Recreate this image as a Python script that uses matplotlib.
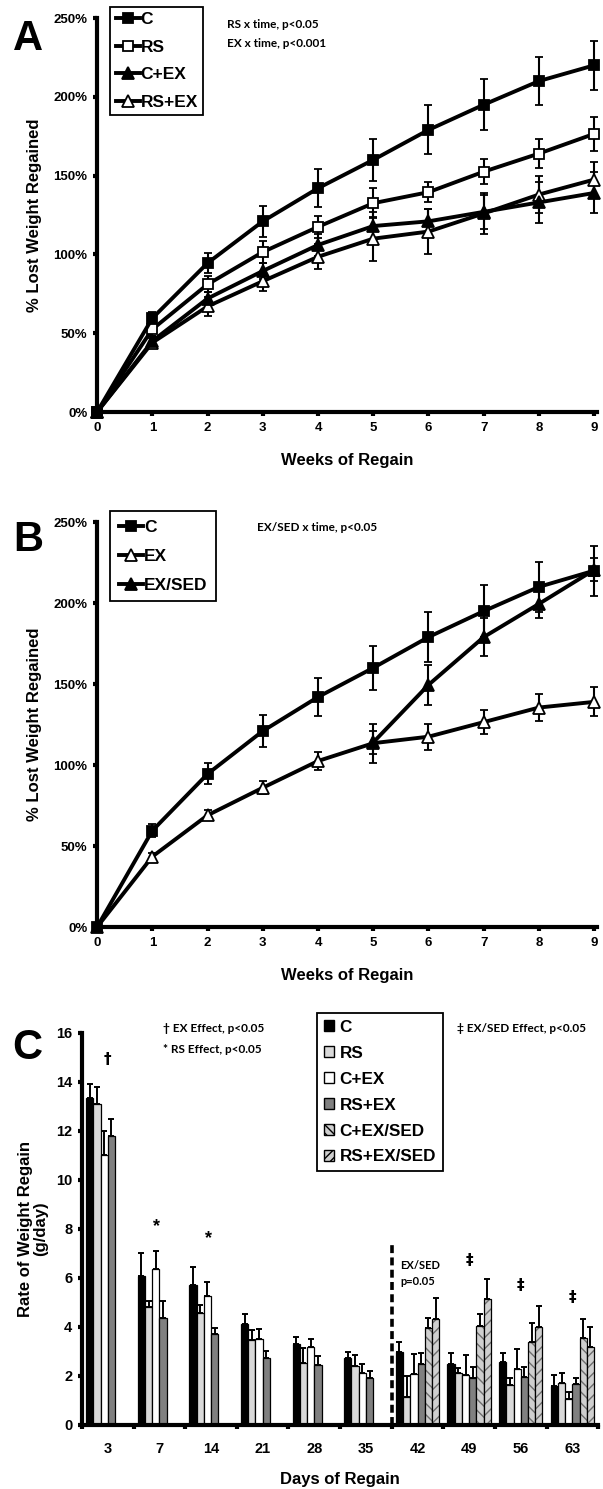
import numpy as np
import matplotlib
matplotlib.use("Agg")
import matplotlib.pyplot as plt
from matplotlib.lines import Line2D
from matplotlib.patches import Patch

# ---- panel A / B : % lost weight regained by week ----
weeks = [0, 1, 2, 3, 4, 5, 6, 7, 8, 9]
c_mean = [0, 59.5, 94.5, 121, 142, 160, 179, 195, 210, 220]
c_err = [0, 4, 6.5, 10, 12, 13.5, 15.5, 16, 15.5, 15.5]
rs_mean = [0, 52.5, 81, 101.5, 117.5, 132.5, 139.5, 152.5, 164, 176.5]
rs_err = [0, 4, 5, 7, 7, 9.5, 6.5, 8, 9, 11]
cex_mean = [0, 45, 72, 89.5, 106, 118, 121, 127, 133, 139]
cex_err = [0, 3, 4, 5, 7, 9, 8, 11, 13, 13]
rsex_mean = [0, 44, 67, 83, 98.5, 110, 114.5, 126, 138, 147.5]
rsex_err = [0, 3, 6, 6, 8, 14, 14, 13, 12, 11]

ex_mean = [0, 43.5, 69, 86, 102.5, 113.5, 117.5, 126.5, 135.5, 139]
ex_err = [0, 2.5, 3, 4, 5.5, 12, 8, 7.5, 8.5, 9]
exsed_weeks = [5, 6, 7, 8, 9]
exsed_mean = [114, 149.5, 179, 199.5, 220.5]
exsed_err = [7, 12.5, 11.5, 8.5, 7]

# ---- panel C : rate of weight regain (g/day) ----
days = ["3", "7", "14", "21", "28", "35", "42", "49", "56", "63"]
nan = np.nan
rate_c = [13.35, 6.1, 5.7, 4.12, 3.3, 2.73, 2.98, 2.48, 2.55, 1.6]
rate_c_err = [0.55, 0.9, 0.75, 0.4, 0.3, 0.25, 0.42, 0.45, 0.38, 0.44]
rate_rs = [13.1, 4.8, 4.57, 3.47, 2.53, 2.42, 1.15, 2.12, 1.63, 1.72]
rate_rs_err = [0.7, 0.25, 0.33, 0.4, 0.6, 0.44, 0.85, 0.21, 0.27, 0.4]
rate_cex = [11.0, 6.35, 5.27, 3.5, 3.2, 2.12, 2.08, 2.04, 2.28, 1.05]
rate_cex_err = [1.0, 0.75, 0.57, 0.42, 0.3, 0.38, 0.82, 0.81, 0.82, 0.3]
rate_rsex = [11.8, 4.35, 3.7, 2.73, 2.45, 1.92, 2.5, 1.93, 1.96, 1.67]
rate_rsex_err = [0.7, 0.7, 0.26, 0.3, 0.37, 0.28, 0.43, 0.44, 0.41, 0.23]
rate_cexsed = [nan, nan, nan, nan, nan, nan, 3.96, 4.05, 3.39, 3.55]
rate_cexsed_err = [nan, nan, nan, nan, nan, nan, 0.41, 0.48, 0.77, 0.77]
rate_rsexsed = [nan, nan, nan, nan, nan, nan, 4.32, 5.14, 4.0, 3.18]
rate_rsexsed_err = [nan, nan, nan, nan, nan, nan, 0.88, 0.82, 0.86, 0.82]

ARIAL = "Liberation Sans"
CALIBRI = "Lato"

plt.rcParams["font.family"] = ARIAL
plt.rcParams["font.weight"] = "bold"

fig = plt.figure(figsize=(6.03, 14.89), dpi=100)


def style_axes(ax):
    for s in ["top", "right"]:
        ax.spines[s].set_visible(False)
    for s in ["left", "bottom"]:
        ax.spines[s].set_linewidth(3)
    ax.tick_params(axis="both", direction="out", length=3, width=3,
                   labelsize=9.5, pad=4)
    for lab in ax.get_xticklabels() + ax.get_yticklabels():
        lab.set_fontweight("bold")


def line_series(ax, x, y, err, marker, filled):
    ax.errorbar(x, y, yerr=err, fmt="-" + marker, color="k", lw=2.8,
                ms=7.5 if marker == "s" else 8.5,
                mfc="k" if filled else "w", mec="k", mew=1.3,
                elinewidth=1.5, capsize=3, capthick=1.5, clip_on=False,
                zorder=3)


def line_handle(marker, filled):
    return Line2D([], [], color="k", lw=2.8, marker=marker,
                  ms=7.5 if marker == "s" else 8.5,
                  mfc="k" if filled else "w", mec="k", mew=1.3)


def pct_axis(ax):
    ax.set_xlim(0, 9.05)
    ax.set_ylim(0, 250)
    ax.set_xticks(weeks)
    ax.set_yticks([0, 50, 100, 150, 200, 250])
    ax.set_yticklabels(["0%", "50%", "100%", "150%", "200%", "250%"])
    ax.set_xlabel("Weeks of Regain", fontsize=12, fontweight="bold", labelpad=14)
    ax.set_ylabel("% Lost Weight Regained", fontsize=12, fontweight="bold", labelpad=8)
    style_axes(ax)


# ---------------- A ----------------
axA = fig.add_axes([0.161, 0.7233, 0.829, 0.2646])
line_series(axA, weeks, rsex_mean, rsex_err, "^", False)
line_series(axA, weeks, cex_mean, cex_err, "^", True)
line_series(axA, weeks, rs_mean, rs_err, "s", False)
line_series(axA, weeks, c_mean, c_err, "s", True)
pct_axis(axA)
legA = fig.legend([line_handle("s", True), line_handle("s", False),
                   line_handle("^", True), line_handle("^", False)],
                  ["C", "RS", "C+EX", "RS+EX"],
                  loc="upper left", bbox_to_anchor=(0.183, 0.9955),
                  prop={"family": ARIAL, "weight": "bold", "size": 12.5},
                  handlelength=1.4, handletextpad=0.05, labelspacing=0.72,
                  borderpad=0.3, borderaxespad=0, fancybox=False,
                  edgecolor="k", framealpha=1)
legA.get_frame().set_linewidth(1.3)
fig.text(0.376, 0.9835, "RS x time, p<0.05", fontsize=8.5, fontweight="bold",
         family=CALIBRI, va="center")
fig.text(0.376, 0.9705, "EX x time, p<0.001", fontsize=8.5, fontweight="bold",
         family=CALIBRI, va="center")
fig.text(0.022, 0.974, "A", fontsize=30, fontweight="bold", va="center")

# ---------------- B ----------------
axB = fig.add_axes([0.161, 0.3774, 0.829, 0.272])
line_series(axB, weeks, ex_mean, ex_err, "^", False)
line_series(axB, exsed_weeks, exsed_mean, exsed_err, "^", True)
line_series(axB, weeks, c_mean, c_err, "s", True)
pct_axis(axB)
legB = fig.legend([line_handle("s", True), line_handle("^", False),
                   line_handle("^", True)],
                  ["C", "EX", "EX/SED"],
                  loc="upper left", bbox_to_anchor=(0.183, 0.6565),
                  prop={"family": ARIAL, "weight": "bold", "size": 12.5},
                  handlelength=1.4, handletextpad=0.05, labelspacing=0.78,
                  borderpad=0.5, borderaxespad=0, fancybox=False,
                  edgecolor="k", framealpha=1)
legB.get_frame().set_linewidth(1.3)
fig.text(0.426, 0.6455, "EX/SED x time, p<0.05", fontsize=8.5,
         fontweight="bold", family=CALIBRI, va="center")
fig.text(0.022, 0.6375, "B", fontsize=30, fontweight="bold", va="center")

# ---------------- C ----------------
axC = fig.add_axes([0.136, 0.043, 0.856, 0.2633])
x = np.arange(len(days))
w = 0.14
series = [
    (rate_c, rate_c_err, "k", None),
    (rate_rs, rate_rs_err, "#d9d9d9", None),
    (rate_cex, rate_cex_err, "w", None),
    (rate_rsex, rate_rsex_err, "#808080", None),
    (rate_cexsed, rate_cexsed_err, "#cfcfcf", "\\\\\\"),
    (rate_rsexsed, rate_rsexsed_err, "#cfcfcf", "///"),
]
for k, (vals, errs, col, hatch) in enumerate(series):
    vals = np.array(vals, dtype=float)
    errs = np.array(errs, dtype=float)
    pos = x + (k - 2.5) * w
    ok = ~np.isnan(vals)
    if hatch:
        axC.bar(pos[ok], vals[ok], w, color=col, edgecolor="#6e6e6e",
                hatch=hatch, lw=0, zorder=2)
        axC.bar(pos[ok], vals[ok], w, fill=False, edgecolor="k", lw=0.9,
                zorder=2)
    else:
        axC.bar(pos[ok], vals[ok], w, color=col, edgecolor="k", lw=0.9,
                zorder=2)
    axC.errorbar(pos[ok], vals[ok], yerr=[np.zeros(ok.sum()), errs[ok]],
                 fmt="none", ecolor="k", elinewidth=1.4, capsize=2.5,
                 capthick=1.4, zorder=3)

axC.set_xlim(-0.5, 9.5)
axC.set_ylim(0, 16)
axC.set_yticks(range(0, 17, 2))
axC.set_xticks(x)
axC.set_xticklabels(days)
axC.set_xticks(np.arange(-0.5, 10, 1), minor=True)
style_axes(axC)
axC.tick_params(axis="y", labelsize=10.5)
axC.tick_params(axis="x", which="major", length=0, labelsize=10.5, pad=12)
axC.tick_params(axis="x", which="minor", direction="out", length=3, width=3)
axC.set_xlabel("Days of Regain", fontsize=12, fontweight="bold", labelpad=12)
axC.set_ylabel("Rate of Weight Regain\n(g/day)", fontsize=12,
               fontweight="bold", labelpad=6, linespacing=1.0)
axC.plot([5.5, 5.5], [0, 7.45], ls=(0, (2.2, 1.2)), color="k", lw=2.6,
         zorder=4)
axC.text(5.66, 6.5, "EX/SED", fontsize=8, fontweight="bold", family=CALIBRI,
         va="center")
axC.text(5.66, 5.85, "p=0.05", fontsize=8, fontweight="bold", family=CALIBRI,
         va="center")
axC.text(0, 14.9, "†", fontsize=11, fontweight="bold", ha="center",
         va="center", family="DejaVu Sans")
for gi, yy in [(1, 8.1), (2, 7.6)]:
    axC.text(gi - 0.05, yy, "*", fontsize=13, fontweight="bold", ha="center",
             va="center")
for gi, yy in [(7, 6.7), (8, 5.7), (9, 5.2)]:
    axC.text(gi, yy, "‡", fontsize=11, fontweight="bold", ha="center",
             va="center", family="DejaVu Sans")

legC = fig.legend([Patch(fc="k", ec="k"), Patch(fc="#d9d9d9", ec="k"),
                   Patch(fc="w", ec="k"), Patch(fc="#808080", ec="k"),
                   Patch(fc="#cfcfcf", ec="k", hatch="\\\\\\\\"),
                   Patch(fc="#cfcfcf", ec="k", hatch="////")],
                  ["C", "RS", "C+EX", "RS+EX", "C+EX/SED", "RS+EX/SED"],
                  loc="upper left", bbox_to_anchor=(0.526, 0.3197),
                  prop={"family": ARIAL, "weight": "bold", "size": 12.3},
                  handlelength=0.6, handleheight=0.6, handletextpad=0.3,
                  labelspacing=0.64, borderpad=0.4, borderaxespad=0,
                  fancybox=False, edgecolor="k", framealpha=1)
legC.get_frame().set_linewidth(1.3)
fig.text(0.270, 0.3095, "† EX Effect, p<0.05", fontsize=8.5,
         fontweight="bold", family=[CALIBRI, "DejaVu Sans"], va="center")
fig.text(0.270, 0.2955, "* RS Effect, p<0.05", fontsize=8.5,
         fontweight="bold", family=CALIBRI, va="center")
fig.text(0.758, 0.3095, "‡ EX/SED Effect, p<0.05", fontsize=8.5,
         fontweight="bold", family=[CALIBRI, "DejaVu Sans"], va="center")
fig.text(0.02, 0.2965, "C", fontsize=30, fontweight="bold", va="center")

fig.savefig("out.png", dpi=100)
